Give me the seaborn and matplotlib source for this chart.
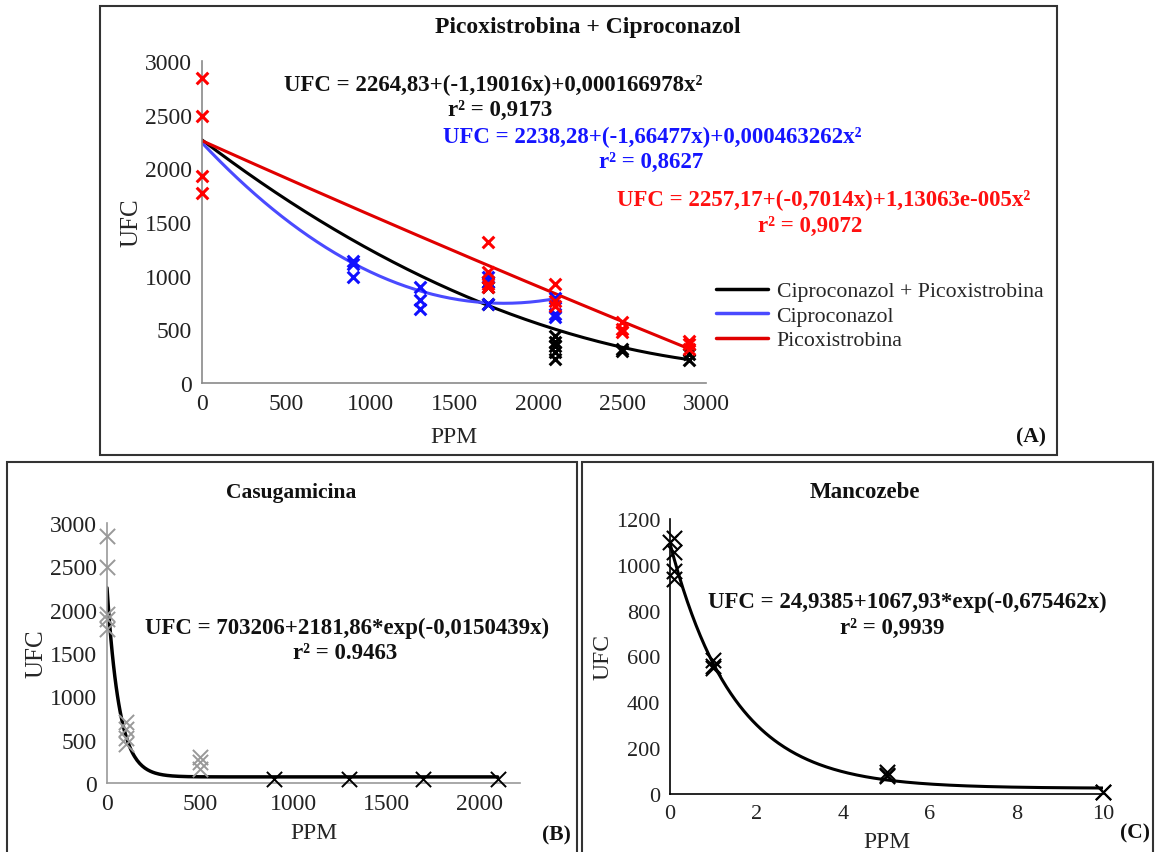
import numpy as np
import pandas as pd
import matplotlib.pyplot as plt
import seaborn as sns
from matplotlib.patches import Rectangle

# ---- data ----
# panel A: Picoxistrobina + Ciproconazol
picox_x = [0, 0, 0, 0, 1700, 1700, 1700, 1700, 2100, 2100, 2100, 2500, 2500, 2500, 2900, 2900, 2900]
picox_y = [2845, 2490, 1930, 1770, 1310, 1030, 920, 895, 920, 765, 720, 565, 505, 475, 390, 360, 320]
cipro_x = [900, 900, 900, 1300, 1300, 1300, 1700, 1700, 1700, 2100, 2100, 2100]
cipro_y = [1140, 1110, 985, 895, 770, 690, 985, 940, 735, 795, 645, 615]
mix_x = [1700, 1700, 1700, 2100, 2100, 2100, 2100, 2100, 2500, 2500, 2900, 2900]
mix_y = [940, 895, 735, 440, 380, 345, 285, 225, 315, 295, 270, 210]

# quadratic fit coefficients (a + b x + c x^2) as printed on the chart
mix_coef = [2264.83, -1.19016, 0.000166978]
cipro_coef = [2238.28, -1.66477, 0.000463262]
picox_coef = [2257.17, -0.7014, 1.13063e-005]

# panel B: Casugamicina
casu_x_grey = [0, 0, 0, 0, 0, 100, 100, 100, 100, 500, 500, 500]
casu_y_grey = [2845, 2490, 1950, 1890, 1775, 700, 620, 525, 450, 295, 240, 160]
casu_x_dark = [900, 1300, 1700, 2100]
casu_y_dark = [45, 45, 45, 45]
casu_coef = [70.3206, 2181.86, -0.0150439]

# panel C: Mancozebe
manc_x = [0, 0.1, 0.1, 0.1, 0.1, 1, 1, 1, 5, 5, 5, 10, 10]
manc_y = [1100, 1115, 1055, 975, 940, 585, 560, 550, 95, 85, 78, 10, 7]
manc_coef = [24.9385, 1067.93, -0.675462]

sns.set_style("white")
plt.rcParams['font.family'] = ['Liberation Serif', 'DejaVu Serif']

fig = plt.figure(figsize=(11.56, 8.53), dpi=100)
W, H = 1156, 853
EQ = 16.5


def px_axes(l, t, r, b):
    return fig.add_axes([l / W, 1 - b / H, (r - l) / W, (b - t) / H])


def style_axes(ax, color, fs):
    for s in ['top', 'right']:
        ax.spines[s].set_visible(False)
    for s in ['left', 'bottom']:
        ax.spines[s].set_color(color)
        ax.spines[s].set_linewidth(1.2)
    ax.tick_params(direction='out', length=4, width=1, color=color,
                   labelsize=fs, labelcolor='#222222', pad=3)
    ax.grid(False)


def label(x, y, s, fs=EQ, color='#111111', bold=True):
    fig.text(x / W, 1 - y / H, s, ha='center', va='center', fontsize=fs,
             fontweight='bold' if bold else 'normal', color=color)


# frames around the panels
for (l, t, r, b) in [(100, 7, 1057, 456), (7, 463, 577, 860), (582, 463, 1153, 860)]:
    fig.patches.append(Rectangle((l / W, 1 - b / H), (r - l) / W, (b - t) / H,
                                 transform=fig.transFigure, fill=False,
                                 edgecolor='#333333', linewidth=1.5))

# ---------- panel A ----------
axA = px_axes(202, 62, 706, 384)
xa1 = np.linspace(0, 2900, 200)
xa2 = np.linspace(0, 2100, 200)
poly = lambda c, x: c[0] + c[1] * x + c[2] * x ** 2
sns.lineplot(x=xa1, y=poly(mix_coef, xa1), ax=axA, color='black', lw=2.2,
             label='Ciproconazol + Picoxistrobina')
sns.lineplot(x=xa2, y=poly(cipro_coef, xa2), ax=axA, color='#4a4aff', lw=2.2,
             label='Ciproconazol')
sns.lineplot(x=xa1, y=poly(picox_coef, xa1), ax=axA, color='#e00000', lw=2.2,
             label='Picoxistrobina')
sns.scatterplot(x=mix_x, y=mix_y, ax=axA, marker='x', color='black', s=70,
                linewidth=2.2, zorder=3, clip_on=False)
sns.scatterplot(x=cipro_x, y=cipro_y, ax=axA, marker='x', color='#1010ff', s=70,
                linewidth=2.2, zorder=3, clip_on=False)
sns.scatterplot(x=picox_x, y=picox_y, ax=axA, marker='x', color='#ff0000', s=70,
                linewidth=2.2, zorder=4, clip_on=False)
axA.set_xlim(0, 3000)
axA.set_ylim(0, 3000)
axA.set_xticks(range(0, 3001, 500))
axA.set_yticks(range(0, 3001, 500))
style_axes(axA, '#8a8a8a', 17)
axA.set_xlabel('PPM', fontsize=17, labelpad=9)
axA.set_ylabel('UFC', fontsize=18, labelpad=2)
leg = axA.legend(loc='upper left', bbox_to_anchor=(0.98, 0.378), frameon=False,
                 fontsize=15.7, handlelength=2.4, labelspacing=0.2, handletextpad=0.4)
for h in leg.get_lines():
    h.set_linewidth(2.5)

label(588, 28, 'Picoxistrobina + Ciproconazol', fs=17)
label(493, 85, 'UFC = 2264,83+(-1,19016x)+0,000166978x²')
label(500, 110, 'r² = 0,9173')
label(652, 137, 'UFC = 2238,28+(-1,66477x)+0,000463262x²', color='#1515ff')
label(651, 162, 'r² = 0,8627', color='#1515ff')
label(824, 200, 'UFC = 2257,17+(-0,7014x)+1,13063e-005x²', color='#ff1010')
label(810, 226, 'r² = 0,9072', color='#ff1010')
label(1031, 437, '(A)', fs=15.5)

# ---------- panel B ----------
axB = px_axes(107, 524, 520, 784)
xb = np.linspace(0, 2100, 300)
sns.lineplot(x=xb, y=casu_coef[0] + casu_coef[1] * np.exp(casu_coef[2] * xb), ax=axB,
             color='black', lw=2.5)
sns.scatterplot(x=casu_x_grey, y=casu_y_grey, ax=axB, marker='x', color='#999999',
                s=120, linewidth=1.4, zorder=3, clip_on=False)
sns.scatterplot(x=casu_x_dark, y=casu_y_dark, ax=axB, marker='x', color='black',
                s=120, linewidth=1.4, zorder=3, clip_on=False)
axB.set_xlim(0, 2220)
axB.set_ylim(0, 3000)
axB.set_xticks(range(0, 2001, 500))
axB.set_yticks(range(0, 3001, 500))
style_axes(axB, '#9a9a9a', 17)
axB.set_xlabel('PPM', fontsize=17, labelpad=6)
axB.set_ylabel('UFC', fontsize=18, labelpad=2)
label(291, 493, 'Casugamicina', fs=15.5)
label(347, 628, 'UFC = 703206+2181,86*exp(-0,0150439x)')
label(345, 654, 'r² = 0.9463')
label(556, 835, '(B)', fs=15.5)

# ---------- panel C ----------
axC = px_axes(670, 520, 1103, 795)
xc = np.linspace(0, 10, 300)
sns.lineplot(x=xc, y=manc_coef[0] + manc_coef[1] * np.exp(manc_coef[2] * xc), ax=axC,
             color='black', lw=2.2)
sns.scatterplot(x=manc_x, y=manc_y, ax=axC, marker='x', color='black', s=120,
                linewidth=1.5, zorder=3, clip_on=False)
axC.set_xlim(0, 10)
axC.set_ylim(0, 1200)
axC.set_xticks(range(0, 11, 2))
axC.set_yticks(range(0, 1201, 200))
style_axes(axC, 'black', 16)
axC.set_xlabel('PPM', fontsize=17, labelpad=6)
axC.set_ylabel('UFC', fontsize=17, labelpad=2)
label(865, 493, 'Mancozebe', fs=16.5)
label(907, 602, 'UFC = 24,9385+1067,93*exp(-0,675462x)')
label(892, 628, 'r² = 0,9939')
label(1135, 833, '(C)', fs=15.5)

fig.savefig('out.png', dpi=100)
